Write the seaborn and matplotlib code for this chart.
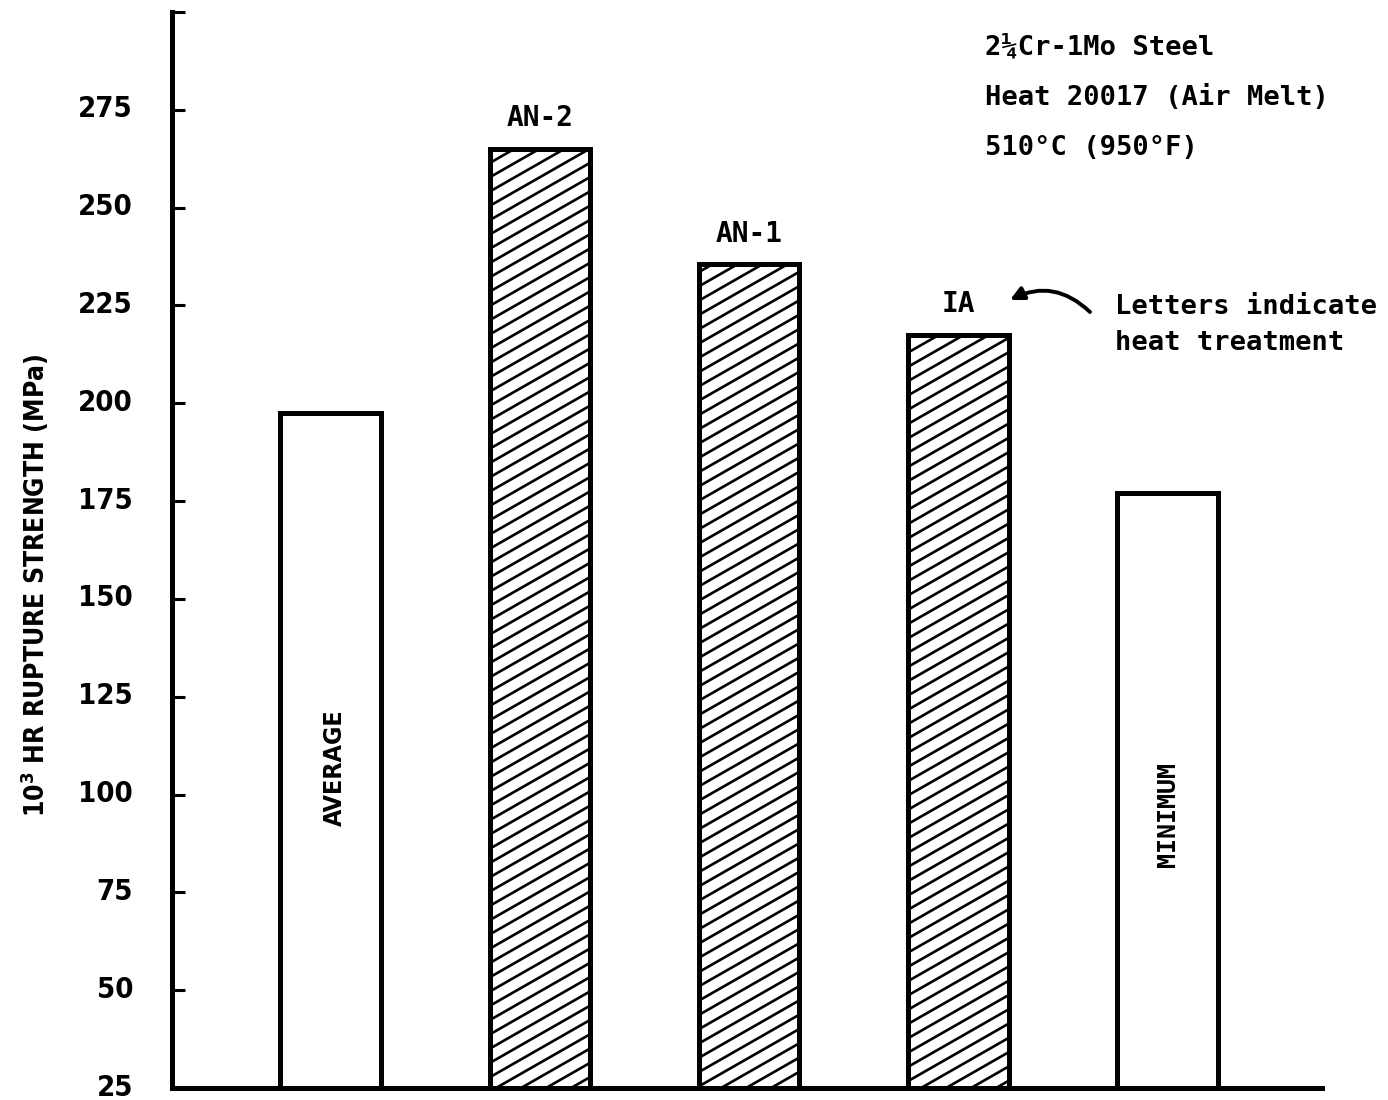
import numpy as np
import matplotlib
matplotlib.use("Agg")
import matplotlib.pyplot as plt
import matplotlib.hatch as mhatch
from matplotlib.path import Path
from matplotlib.transforms import ScaledTranslation
import seaborn as sns

# ---- data -------------------------------------------------------------
bar_names = ["AVERAGE", "AN-2", "AN-1", "IA", "MINIMUM"]
rupture_strength = [197.5, 265.0, 235.5, 217.5, 177.0]   # MPa, 10^3 h
hatched = [False, True, True, True, False]
top_labels = ["", "AN-2", "AN-1", "IA", ""]
y_ticks = [25, 50, 75, 100, 125, 150, 175, 200, 225, 250, 275, 300]
y_tick_labels = ["25", "50", "75", "100", "125", "150", "175", "200",
                 "225", "250", "275", ""]


# ---- shallow diagonal hatch (about 30 degrees) --------------------------
class SlantHatch(mhatch.HatchPatternBase):
    """Replaces the '/' hatch with lines of slope 4/7, 7 lines per unit."""

    def __init__(self, hatch, density):
        n = hatch.count("/")
        self.rise = 4.0 / 7.0
        self.offsets = np.arange(-4, 8) / 7.0 if n else np.array([])
        self.num_lines = len(self.offsets)
        self.num_vertices = 2 * self.num_lines

    def set_vertices_and_codes(self, vertices, codes):
        x0, x1 = -0.25, 1.25
        for i, c in enumerate(self.offsets):
            vertices[2 * i] = (x0, c + self.rise * x0)
            vertices[2 * i + 1] = (x1, c + self.rise * x1)
        codes[0::2] = Path.MOVETO
        codes[1::2] = Path.LINETO


for i, h in enumerate(mhatch._hatch_types):
    if h is mhatch.NorthEastHatch:
        mhatch._hatch_types[i] = SlantHatch

# ---- style ------------------------------------------------------------
sns.set_style("ticks")
COND = ["DejaVu Sans"]
MONO = ["DejaVu Sans Mono"]
plt.rcParams["font.family"] = COND
plt.rcParams["font.stretch"] = "condensed"
plt.rcParams["hatch.linewidth"] = 1.9
plt.rcParams["hatch.color"] = "black"
for key in ("text.color", "axes.labelcolor", "xtick.color", "ytick.color",
            "axes.edgecolor"):
    plt.rcParams[key] = "black"

fig = plt.figure(figsize=(13.88, 11.0), dpi=100)
ax = fig.add_axes([172 / 1388, 12 / 1100, 1150 / 1388, 1076 / 1100])

sns.barplot(x=bar_names, y=rupture_strength, color="white", saturation=1,
            edgecolor="black", linewidth=3.6, width=0.48, ax=ax)

for patch, h in zip(ax.patches, hatched):
    patch.set_facecolor("white")
    if h:
        patch.set_hatch("/")

ax.set_xlim(-0.7575, 4.738)
ax.set_ylim(25, 300)

# axes frame
for side in ("top", "right"):
    ax.spines[side].set_visible(False)
for side in ("left", "bottom"):
    ax.spines[side].set_linewidth(3.6)
    ax.spines[side].set_color("black")

ax.set_xticks([])
ax.set_xlabel("")
ax.set_yticks(y_ticks)
ax.set_yticklabels(y_tick_labels, fontsize=21, fontweight="bold",
                   family=COND, fontstretch="condensed")
ax.tick_params(axis="y", direction="in", length=9, width=2.2, pad=28)
lift = ScaledTranslation(0, 3.5 / 100, fig.dpi_scale_trans)
for lbl in ax.get_yticklabels():
    lbl.set_transform(lbl.get_transform() + lift)

ax.set_ylabel(r"$\mathbf{10^3}$ HR RUPTURE STRENGTH (MPa)", fontsize=19,
              fontweight="bold", family=COND, fontstretch="condensed")
ax.yaxis.set_label_coords(-0.105, 0.4675)

# treatment labels above the hatched bars
ax.bar_label(ax.containers[0], labels=top_labels, padding=12, fontsize=20,
             fontweight="bold", family=MONO)

# vertical labels inside the plain bars
ax.text(0.02, 107, "AVERAGE", rotation=90, ha="center", va="center",
        fontsize=18, fontweight="bold", family=COND, fontstretch="condensed")
ax.text(4, 95, "MINIMUM", rotation=90, ha="center", va="center",
        fontsize=18, fontweight="bold", family=MONO)

# material description block
info = ["2¼Cr-1Mo Steel", "Heat 20017 (Air Melt)", "510°C (950°F)"]
for k, line in enumerate(info):
    fig.text(985 / 1388, 1 - (48 + 50 * k) / 1100, line, ha="left",
             va="center", fontsize=19.5, fontweight="bold", family=MONO)

fig.text(1115 / 1388, 1 - 307 / 1100, "Letters indicate", ha="left",
         va="center", fontsize=19.5, fontweight="bold", family=MONO)
fig.text(1115 / 1388, 1 - 343 / 1100, "heat treatment", ha="left",
         va="center", fontsize=19.5, fontweight="bold", family=MONO)

ax.annotate("", xy=(1010, 800), xycoords="figure pixels",
            xytext=(1090, 788), textcoords="figure pixels",
            arrowprops=dict(arrowstyle="-|>,head_length=0.8,head_width=0.4",
                            color="black", lw=2.8,
                            connectionstyle="arc3,rad=0.35",
                            shrinkA=0, shrinkB=0))

fig.savefig("out.png", dpi=100, facecolor="white")
